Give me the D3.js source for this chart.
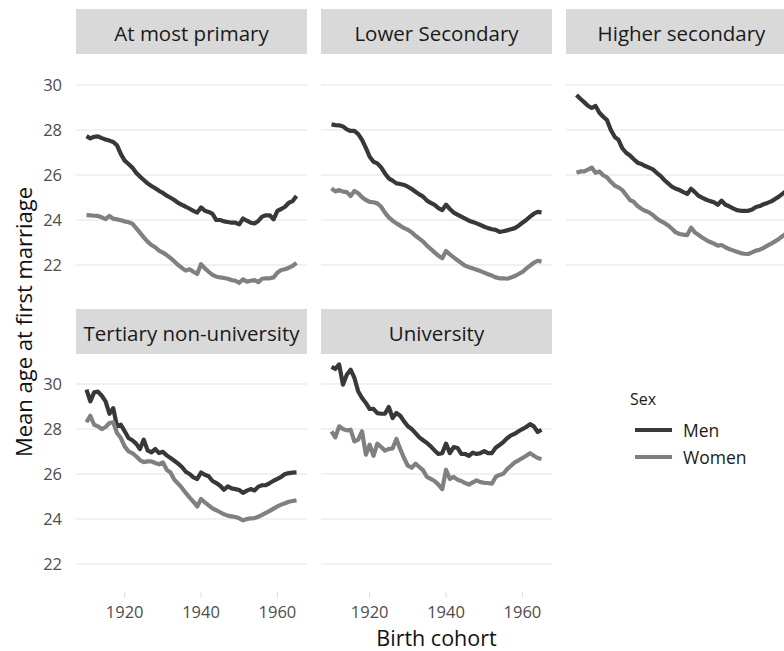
<!DOCTYPE html>
<html>
<head>
<meta charset="utf-8">
<script src="https://cdn.jsdelivr.net/npm/d3@7/dist/d3.min.js"></script>
<style>
body { margin: 0; background: #fff; }
svg { display: block; font-family: "Open Sans", sans-serif; }
</style>
</head>
<body>
<div id="chart"></div>
<script>
// --- data ---
const levels = ["At most primary", "Lower Secondary", "Higher secondary", "Tertiary non-university", "University"];
const sexes = ["Men", "Women"];
const years = [1910,1911,1912,1913,1914,1915,1916,1917,1918,1919,
  1920,1921,1922,1923,1924,1925,1926,1927,1928,1929,
  1930,1931,1932,1933,1934,1935,1936,1937,1938,1939,
  1940,1941,1942,1943,1944,1945,1946,1947,1948,1949,
  1950,1951,1952,1953,1954,1955,1956,1957,1958,1959,
  1960,1961,1962,1963,1964,1965];
const yTicks = [22, 24, 26, 28, 30];
const xTicks = [1920, 1940, 1960];

const menPrimary = [27.73,27.63,27.70,27.72,27.64,27.58,27.53,27.47,27.32,26.93,
  26.64,26.49,26.33,26.10,25.93,25.78,25.63,25.51,25.41,25.30,
  25.21,25.08,24.99,24.89,24.76,24.67,24.59,24.50,24.41,24.33,
  24.56,24.41,24.36,24.27,24.00,24.00,23.94,23.91,23.88,23.88,
  23.81,24.07,23.97,23.88,23.85,23.96,24.15,24.21,24.21,24.03,
  24.41,24.49,24.59,24.77,24.84,25.07];
const womenPrimary = [24.22,24.21,24.19,24.18,24.12,24.04,24.18,24.06,24.03,23.99,
  23.94,23.90,23.84,23.64,23.44,23.23,23.04,22.89,22.79,22.64,
  22.55,22.44,22.31,22.16,22.00,21.87,21.75,21.81,21.70,21.60,
  22.04,21.85,21.70,21.56,21.48,21.45,21.42,21.39,21.33,21.30,
  21.21,21.36,21.26,21.30,21.33,21.24,21.39,21.41,21.41,21.45,
  21.66,21.78,21.81,21.88,21.96,22.10];
const menLowerSec = [28.25,28.22,28.21,28.16,28.03,27.96,27.96,27.82,27.56,27.21,
  26.81,26.59,26.52,26.34,26.07,25.85,25.75,25.63,25.60,25.56,
  25.48,25.38,25.26,25.14,25.04,24.86,24.76,24.67,24.53,24.44,
  24.68,24.49,24.33,24.24,24.15,24.06,23.97,23.91,23.85,23.78,
  23.70,23.64,23.59,23.56,23.47,23.50,23.54,23.59,23.64,23.75,
  23.88,24.00,24.15,24.28,24.36,24.34];
const womenLowerSec = [25.41,25.27,25.33,25.26,25.24,25.07,25.29,25.19,25.01,24.89,
  24.81,24.79,24.74,24.59,24.33,24.12,23.97,23.85,23.75,23.64,
  23.57,23.45,23.30,23.17,23.04,22.86,22.71,22.56,22.41,22.30,
  22.62,22.47,22.34,22.21,22.09,21.97,21.90,21.85,21.79,21.73,
  21.66,21.59,21.53,21.45,21.41,21.41,21.39,21.44,21.51,21.60,
  21.69,21.84,21.97,22.10,22.19,22.15];
const menHigherSec = [29.56,29.39,29.24,29.08,28.98,29.07,28.77,28.59,28.44,28.00,
  27.70,27.56,27.19,26.99,26.87,26.70,26.55,26.49,26.40,26.33,
  26.25,26.10,25.96,25.78,25.63,25.48,25.39,25.33,25.24,25.16,
  25.39,25.24,25.07,24.98,24.90,24.84,24.79,24.68,24.86,24.68,
  24.61,24.52,24.44,24.41,24.41,24.41,24.47,24.58,24.62,24.70,
  24.76,24.83,24.93,25.04,25.17,25.30];
const womenHigherSec = [26.10,26.16,26.16,26.24,26.33,26.10,26.16,25.99,25.90,25.70,
  25.53,25.45,25.33,25.11,24.89,24.81,24.62,24.50,24.41,24.34,
  24.22,24.07,23.96,23.87,23.76,23.61,23.45,23.38,23.35,23.33,
  23.66,23.45,23.33,23.21,23.11,23.02,22.95,22.86,22.89,22.79,
  22.71,22.65,22.59,22.53,22.50,22.49,22.56,22.64,22.68,22.76,
  22.86,22.95,23.05,23.16,23.29,23.41];
const menTertiary = [29.75,29.23,29.63,29.66,29.48,29.23,28.68,28.93,28.12,28.19,
  27.90,27.60,27.50,27.35,27.11,27.53,27.05,26.96,27.11,26.93,
  26.99,26.83,26.71,26.59,26.46,26.31,26.10,26.00,25.85,25.78,
  26.07,25.97,25.90,25.69,25.60,25.48,25.30,25.45,25.36,25.33,
  25.29,25.16,25.26,25.33,25.27,25.44,25.50,25.51,25.60,25.70,
  25.78,25.87,26.00,26.04,26.06,26.07];
const womenTertiary = [28.30,28.59,28.19,28.12,28.00,28.09,28.27,28.30,27.82,27.60,
  27.23,27.01,26.93,26.79,26.62,26.53,26.56,26.56,26.49,26.43,
  26.52,26.19,26.07,25.75,25.57,25.38,25.16,24.95,24.77,24.56,
  24.89,24.74,24.61,24.47,24.39,24.30,24.21,24.15,24.12,24.09,
  24.03,23.94,24.00,24.03,24.04,24.10,24.18,24.27,24.36,24.46,
  24.56,24.64,24.70,24.77,24.80,24.83];
const menUniversity = [30.76,30.67,30.87,29.97,30.41,30.64,30.27,29.67,29.38,29.16,
  28.89,28.90,28.71,28.68,28.68,28.98,28.49,28.71,28.59,28.34,
  28.12,28.00,27.82,27.63,27.50,27.38,27.23,27.05,26.89,26.93,
  27.35,26.93,27.20,27.16,26.90,26.89,26.81,26.95,26.89,26.93,
  27.02,26.93,26.93,27.17,27.29,27.42,27.59,27.72,27.79,27.90,
  28.00,28.09,28.22,28.12,27.87,27.97];
const womenUniversity = [27.90,27.63,28.12,28.00,27.94,27.97,27.45,27.53,27.90,26.86,
  27.30,26.81,27.35,27.20,27.04,27.11,27.14,27.56,27.11,26.71,
  26.37,26.28,26.46,26.31,26.16,25.87,25.78,25.69,25.53,25.33,
  26.19,25.78,25.87,25.75,25.69,25.60,25.53,25.63,25.72,25.64,
  25.61,25.60,25.57,25.87,25.96,26.01,26.22,26.37,26.52,26.61,
  26.71,26.81,26.93,26.81,26.71,26.67];

const seriesByLevel = [
  [menPrimary, womenPrimary],
  [menLowerSec, womenLowerSec],
  [menHigherSec, womenHigherSec],
  [menTertiary, womenTertiary],
  [menUniversity, womenUniversity]
];

// --- layout ---
const W = 784, H = 651;
const colX = [76, 321, 566], panelW = 231;
const stripTop = [9, 309], stripH = 45;
const panelTop = [54, 353], panelH = 238;
const colors = { Men: "#383838", Women: "#808080" };

const svg = d3.select("#chart").append("svg").attr("width", W).attr("height", H);

const x = d3.scaleLinear().domain([1907.25, 1967.75]).range([0, panelW]);
const y = d3.scaleLinear().domain([20.8, 31.38]).range([panelH, 0]);

const line = d3.line().x((d, i) => x(years[i])).y(d => y(d));

levels.forEach((name, k) => {
  const col = k % 3, row = Math.floor(k / 3);
  const g = svg.append("g").attr("transform", "translate(" + colX[col] + "," + panelTop[row] + ")");

  // strip
  svg.append("rect")
    .attr("x", colX[col]).attr("y", stripTop[row])
    .attr("width", panelW).attr("height", stripH)
    .attr("fill", "#d9d9d9");
  svg.append("text")
    .attr("x", colX[col] + panelW / 2).attr("y", stripTop[row] + stripH / 2 + 9)
    .attr("text-anchor", "middle").attr("font-size", 20.5).attr("fill", "#1a1a1a")
    .text(name);

  // grid
  g.selectAll("line.grid").data(yTicks).enter().append("line")
    .attr("class", "grid")
    .attr("x1", 0).attr("x2", panelW)
    .attr("y1", d => y(d)).attr("y2", d => y(d))
    .attr("stroke", "#e3e3e3").attr("stroke-width", 1.1);

  // y axis labels on first column
  if (col == 0) {
    g.selectAll("text.ytick").data(yTicks).enter().append("text")
      .attr("class", "ytick")
      .attr("x", -14).attr("y", d => y(d)).attr("dy", "0.36em")
      .attr("text-anchor", "end").attr("font-size", 16.5).attr("fill", "#4d4d4d")
      .text(d => d);
  }

  // x axis on bottom row
  if (row == 1) {
    g.selectAll("line.xtick").data(xTicks).enter().append("line")
      .attr("class", "xtick")
      .attr("x1", d => x(d)).attr("x2", d => x(d))
      .attr("y1", panelH + 1).attr("y2", panelH + 7)
      .attr("stroke", "#dcdcdc").attr("stroke-width", 1);
    g.selectAll("text.xtick").data(xTicks).enter().append("text")
      .attr("class", "xtick")
      .attr("x", d => x(d)).attr("y", panelH + 27)
      .attr("text-anchor", "middle").attr("font-size", 16.5).attr("fill", "#4d4d4d")
      .text(d => d);
  }

  // lines
  seriesByLevel[k].forEach((vals, s) => {
    g.append("path")
      .attr("d", line(vals))
      .attr("fill", "none")
      .attr("stroke", colors[sexes[s]])
      .attr("stroke-width", 4.2)
      .attr("stroke-linejoin", "round");
  });
});

// axis titles
svg.append("text")
  .attr("transform", "translate(32," + 322 + ") rotate(-90)")
  .attr("text-anchor", "middle").attr("font-size", 22).attr("fill", "#111")
  .text("Mean age at first marriage");
svg.append("text")
  .attr("x", 436.5).attr("y", 646)
  .attr("text-anchor", "middle").attr("font-size", 21.5).attr("fill", "#111")
  .text("Birth cohort");

// legend
const leg = svg.append("g").attr("transform", "translate(630,0)");
leg.append("text").attr("x", 0).attr("y", 405)
  .attr("font-size", 16).attr("fill", "#1a1a1a").text("Sex");
sexes.forEach((s, i) => {
  const ly = 430 + i * 27;
  leg.append("line")
    .attr("x1", 5).attr("x2", 42).attr("y1", ly).attr("y2", ly)
    .attr("stroke", colors[s]).attr("stroke-width", 4.2);
  leg.append("text").attr("x", 53).attr("y", ly + 7)
    .attr("font-size", 17.5).attr("fill", "#1a1a1a").text(s);
});
</script>
</body>
</html>
